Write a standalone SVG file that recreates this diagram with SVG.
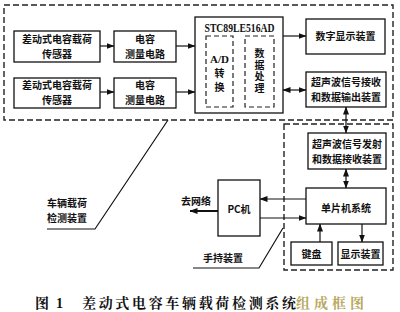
<svg xmlns="http://www.w3.org/2000/svg" width="400" height="312" viewBox="0 0 400 312">
<style>
.b{fill:#fff;stroke:#111;stroke-width:1.3}
.d{fill:none;stroke:#222;stroke-width:1.4;stroke-dasharray:6,3}
.di{fill:none;stroke:#222;stroke-width:1.2;stroke-dasharray:5,3}
.t{font-family:"Noto Sans CJK SC",sans-serif;font-size:10px;font-weight:bold;fill:#111;text-anchor:middle}
.c{stroke:#111;stroke-width:1.2;fill:none}
</style>
<defs>
<marker id="ah" viewBox="0 0 8 6" refX="7.5" refY="3" markerWidth="8" markerHeight="6" markerUnits="userSpaceOnUse" orient="auto-start-reverse"><path d="M0,0L8,3L0,6z" fill="#111"/></marker>
</defs>
<rect x="0" y="0" width="400" height="312" fill="#fff"/>
<g id="detect-region"><rect class="d" x="4" y="5" width="389" height="115"/></g>
<g id="handheld-region"><rect class="d" x="284" y="124" width="109" height="146"/></g>
<g id="sensor1"><rect class="b" x="14" y="31" width="86" height="31"/><text class="t" x="57" y="43">差动式电容载荷</text><text class="t" x="57" y="57.5">传感器</text></g>
<g id="sensor2"><rect class="b" x="14" y="78" width="86" height="30"/><text class="t" x="57" y="89">差动式电容载荷</text><text class="t" x="57" y="103.5">传感器</text></g>
<g id="cap1"><rect class="b" x="114" y="31" width="62" height="31"/><text class="t" x="145" y="43">电容</text><text class="t" x="145" y="57.5">测量电路</text></g>
<g id="cap2"><rect class="b" x="114" y="78" width="62" height="30"/><text class="t" x="145" y="89">电容</text><text class="t" x="145" y="103.5">测量电路</text></g>
<g id="mcu-chip"><rect class="b" x="195" y="17" width="88" height="96"/>
<text x="239.5" y="32" font-family="Liberation Serif,serif" font-size="11.5" font-weight="bold" text-anchor="middle" textLength="70" lengthAdjust="spacingAndGlyphs" fill="#111">STC89LE516AD</text>
<rect class="di" x="206" y="36" width="27" height="71"/>
<rect class="di" x="245" y="36" width="29" height="71"/>
<text x="219.5" y="63" font-family="Liberation Serif,serif" font-size="11" font-weight="bold" text-anchor="middle" fill="#111">A/D</text>
<text class="t" x="219.5" y="76.5">转</text><text class="t" x="219.5" y="91">换</text>
<text class="t" x="259.5" y="71.5" writing-mode="vertical-rl" letter-spacing="1.5">数据处理</text>
</g>
<g id="display1"><rect class="b" x="306" y="19" width="79" height="35"/><text class="t" x="345.5" y="40">数字显示装置</text></g>
<g id="us-recv"><rect class="b" x="306" y="72" width="80" height="35"/><text class="t" x="346" y="86">超声波信号接收</text><text class="t" x="346" y="101">和数据输出装置</text></g>
<g id="us-send"><rect class="b" x="308" y="133" width="78" height="36"/><text class="t" x="347" y="148">超声波信号发射</text><text class="t" x="347" y="162.5">和数据接收装置</text></g>
<g id="mcu-sys"><rect class="b" x="306" y="188" width="80" height="36"/><text class="t" x="346" y="212">单片机系统</text></g>
<g id="pc"><rect class="b" x="218" y="180" width="42" height="56"/><text class="t" x="239" y="213">PC机</text></g>
<g id="keyboard"><rect class="b" x="291" y="242" width="41" height="23"/><text class="t" x="311.5" y="258">键盘</text></g>
<g id="display2"><rect class="b" x="338" y="242" width="45" height="23"/><text class="t" x="360.5" y="258">显示装置</text></g>
<g id="labels">
<text class="t" x="196" y="205">去网络</text>
<text class="t" x="223" y="262">手持装置</text>
<text class="t" x="67" y="207">车辆载荷</text>
<text class="t" x="67" y="222">检测装置</text>
</g>
<g id="connectors" class="c">
<line x1="100" y1="46" x2="114" y2="46" marker-end="url(#ah)"/>
<line x1="100" y1="92" x2="114" y2="92" marker-end="url(#ah)"/>
<line x1="176" y1="46" x2="195" y2="46" marker-end="url(#ah)"/>
<line x1="176" y1="92" x2="195" y2="92" marker-end="url(#ah)"/>
<line x1="283" y1="36" x2="306" y2="36" marker-end="url(#ah)"/>
<line x1="283" y1="90" x2="306" y2="90" marker-start="url(#ah)" marker-end="url(#ah)"/>
<line x1="346" y1="107" x2="346" y2="133" marker-start="url(#ah)" marker-end="url(#ah)"/>
<line x1="346" y1="169" x2="346" y2="188" marker-start="url(#ah)" marker-end="url(#ah)"/>
<line x1="306" y1="199" x2="260" y2="199" marker-end="url(#ah)"/>
<line x1="260" y1="218" x2="306" y2="218" marker-end="url(#ah)"/>
<line x1="218" y1="211" x2="190" y2="211" stroke-width="2" marker-end="url(#ah)"/>
<line x1="320" y1="242" x2="320" y2="224" marker-end="url(#ah)"/>
<line x1="362" y1="224" x2="362" y2="242" marker-end="url(#ah)"/>
<polyline points="47,229 95,229 168,120"/>
<polyline points="193,268 259,268 283,228"/>
</g>
<g id="caption" font-family="Noto Serif CJK SC,Noto Sans CJK SC,serif" font-weight="bold" font-size="14" fill="#111">
<text x="35" y="308">图</text>
<text x="56" y="308" font-family="Liberation Serif,serif">1</text>
<text x="82" y="308" textLength="214" lengthAdjust="spacing">差动式电容车辆载荷检测系统</text>
<text x="296" y="308" fill="#b8a860" textLength="68" lengthAdjust="spacing">组成框图</text>
</g>
</svg>
